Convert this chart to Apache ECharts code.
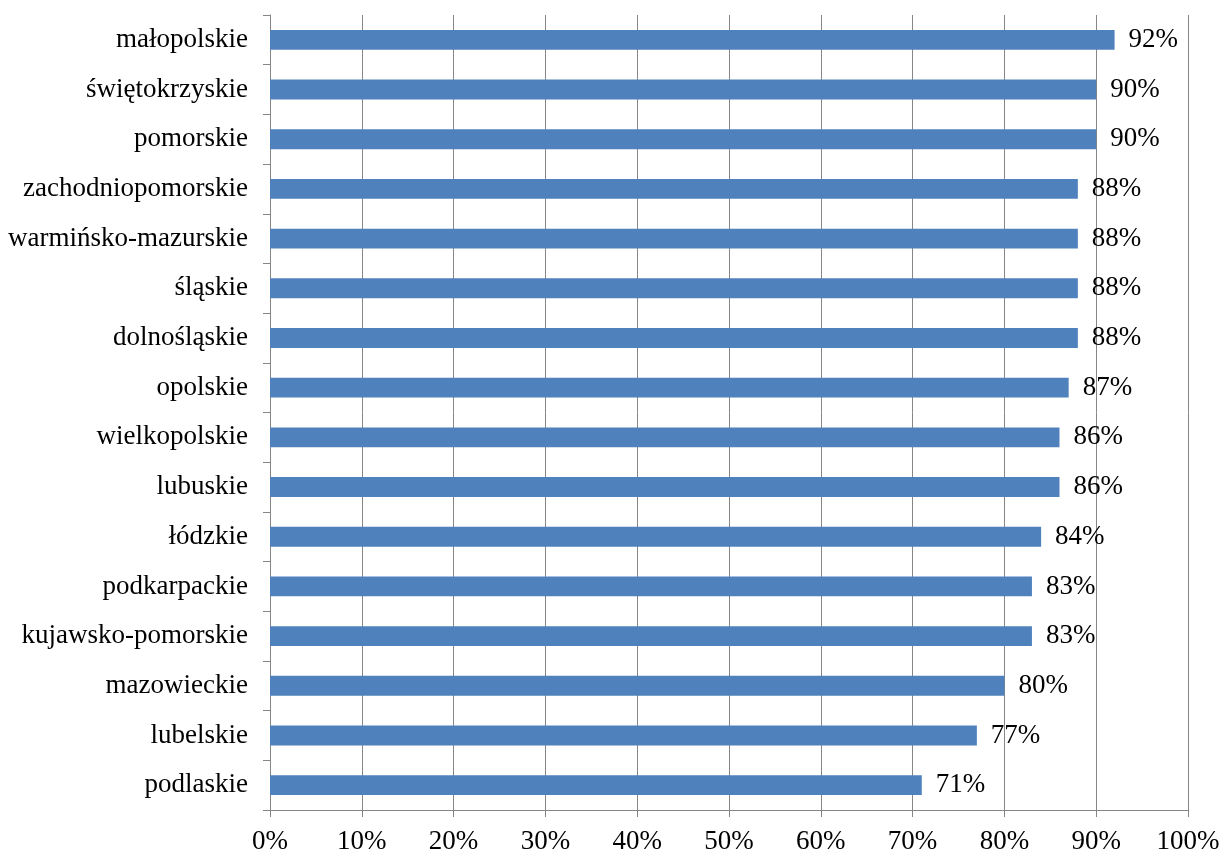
<!DOCTYPE html>
<html><head><meta charset="utf-8">
<script src="https://cdn.jsdelivr.net/npm/echarts@6/dist/echarts.min.js"></script>
<style>html,body{margin:0;padding:0;background:#fff}#c{width:1223px;height:855px}</style>
</head><body><div id="c"></div>
<script>
const categories = ["podlaskie","lubelskie","mazowieckie","kujawsko-pomorskie","podkarpackie","łódzkie","lubuskie","wielkopolskie","opolskie","dolnośląskie","śląskie","warmińsko-mazurskie","zachodniopomorskie","pomorskie","świętokrzyskie","małopolskie"];
const values = [71,77,80,83,83,84,86,86,87,88,88,88,88,90,90,92];
const xTicks = [0,10,20,30,40,50,60,70,80,90,100];

const font = "'Liberation Serif','Times New Roman',serif";
const chart = echarts.init(document.getElementById('c'));
chart.setOption({
  animation:false,
  grid:{left:270,right:35,top:15,bottom:43,containLabel:false},
  xAxis:{type:'value',min:xTicks[0],max:xTicks[xTicks.length-1],interval:10,
    axisLine:{show:true,lineStyle:{color:'#868686',width:1}},
    axisTick:{show:true,length:7,lineStyle:{color:'#868686'}},
    splitLine:{show:true,lineStyle:{color:'#868686',width:1}},
    axisLabel:{formatter:v=>v+'%',color:'#000',fontFamily:font,fontSize:27,margin:18}
  },
  yAxis:{type:'category',data:categories,
    axisLine:{show:true,lineStyle:{color:'#868686',width:1}},
    axisTick:{show:true,length:7,alignWithLabel:false,lineStyle:{color:'#868686'}},
    axisLabel:{color:'#000',fontFamily:font,fontSize:27,margin:22,padding:[3,0,0,0]}
  },
  series:[{type:'bar',data:values,barWidth:'40%',
    itemStyle:{color:'#4F81BD'},
    label:{show:true,position:'right',distance:14,formatter:p=>p.value+'%',color:'#000',fontFamily:font,fontSize:27,padding:[3,0,0,0]}
  }]
});
</script></body></html>
